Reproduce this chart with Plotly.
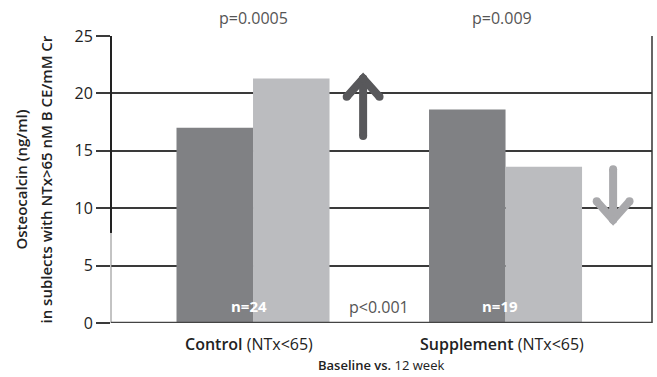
import plotly.graph_objects as go

categories = ["Control", "Supplement"]
baseline = [17.0, 18.6]
week12 = [21.3, 13.6]
y_ticks = [0, 5, 10, 15, 20, 25]
x_labels = ["<span style='font-weight:600'>Control</span> (NTx&lt;65)",
            "<span style='font-weight:600'>Supplement</span> (NTx&lt;65)"]
p_top = ["p=0.0005", "p=0.009"]
n_labels = ["n=24", "n=19"]

FONT = "Open Sans"
DARK = "#808184"
LIGHT = "#bbbcbf"
GRID = "#3a3a3a"

W, H = 657, 377
ML, MR, MT, MB = 111, 5, 36, 53.5
PW = W - ML - MR
PH = H - MT - MB

fig = go.Figure()
fig.add_trace(go.Bar(x=[0, 1], y=baseline, marker=dict(color=DARK, line=dict(width=0)), name="Baseline"))
fig.add_trace(go.Bar(x=[0, 1], y=week12, marker=dict(color=LIGHT, line=dict(width=0)), name="12 week"))

# arrows (decorations)
def arrow(x0, yb, yt, up, color):
    fig.add_trace(go.Scatter(x=[x0, x0], y=[yb, yt], mode="lines+markers", line=dict(color=color, width=8),
                             marker=dict(size=8, color=color), hoverinfo="skip", showlegend=False))
    hw = 0.065
    if up:
        tip, base = yt, yt - 1.6
    else:
        tip, base = yb, yb + 1.6
    fig.add_trace(go.Scatter(x=[x0 - hw, x0, x0 + hw], y=[base, tip, base], mode="lines+markers",
                             line=dict(color=color, width=8), marker=dict(size=8, color=color),
                             hoverinfo="skip", showlegend=False))

arrow(0.436, 16.3, 21.3, True, "#58585b")
arrow(1.426, 9.0, 13.4, False, "#a9a9ac")

fig.update_layout(
    width=W, height=H,
    margin=dict(l=ML, r=MR, t=MT, b=MB),
    paper_bgcolor="white", plot_bgcolor="white",
    barmode="group", bargap=0.394, bargroupgap=0,
    showlegend=False,
    font=dict(family=FONT, size=15, color="#222"),
    xaxis=dict(range=[-0.5624, 1.580], showticklabels=False, showgrid=False, zeroline=False,
               showline=False, ticks=""),
    yaxis=dict(range=[0, 25], tickvals=y_ticks, showgrid=True, gridcolor=GRID, gridwidth=1.5,
               ticks="outside", ticklen=14, tickcolor=GRID, tickwidth=1.5,
               tickfont=dict(family=FONT, size=16, color="#222"),
               zeroline=False, showline=False),
)

shapes = [
    dict(type="line", xref="paper", yref="y", x0=0, x1=0, y0=25, y1=7.85, line=dict(color="#222", width=2)),
    dict(type="line", xref="paper", yref="y", x0=0, x1=0, y0=7.85, y1=0, line=dict(color="#888", width=1)),
    dict(type="line", xref="paper", yref="y", x0=1, x1=1, y0=0, y1=25, line=dict(color="#333", width=1.5)),
    dict(type="line", xref="paper", yref="y", x0=0, x1=1, y0=0, y1=0, line=dict(color="#444", width=2.5)),
]
fig.update_layout(shapes=shapes)

def py(pix):
    return (H - MB - pix) / PH

def px(pix):
    return (pix - ML) / PW

ann = []
for i, t in enumerate(p_top):
    ann.append(dict(x=[0, 0.985][i], y=py(18), xref="x", yref="paper", text=t, showarrow=False,
                    font=dict(family=FONT, size=16, color="#555")))
for i, t in enumerate(n_labels):
    ann.append(dict(x=[-0.016, 0.978][i], y=1.45, xref="x", yref="y", text="<b>" + t + "</b>", showarrow=False,
                    font=dict(family=FONT, size=15, color="white")))
ann.append(dict(x=0.499, y=1.43, xref="x", yref="y", text="p&lt;0.001", showarrow=False,
                font=dict(family=FONT, size=16, color="#555")))
for i, t in enumerate(x_labels):
    ann.append(dict(x=[-0.016, 0.985][i], y=py(345), xref="x", yref="paper", text=t, showarrow=False,
                    font=dict(family=FONT, size=16, color="#222")))
ann.append(dict(x=(381 - 253) / 252.5, y=py(366), xref="x", yref="paper",
                text="<span style='font-weight:600'>Baseline vs.</span> 12 week",
                showarrow=False, font=dict(family=FONT, size=13, color="#222")))
ann.append(dict(x=px(20), y=0.5, xref="paper", yref="paper", text="Osteocalcin (ng/ml)", textangle=-90,
                showarrow=False, font=dict(family=FONT, size=15, color="#222", weight=600)))
ann.append(dict(x=px(45), y=0.5, xref="paper", yref="paper", text="in sublects with NTx&gt;65 nM B CE/mM Cr",
                textangle=-90, showarrow=False, font=dict(family=FONT, size=15, color="#222", weight=600)))
for a in ann:
    a["xanchor"] = "center"
    a["yanchor"] = "middle"

fig.update_layout(annotations=ann)
fig.write_html("out.html", post_script="document.body.style.margin='0';",
               config={"displayModeBar": False})
